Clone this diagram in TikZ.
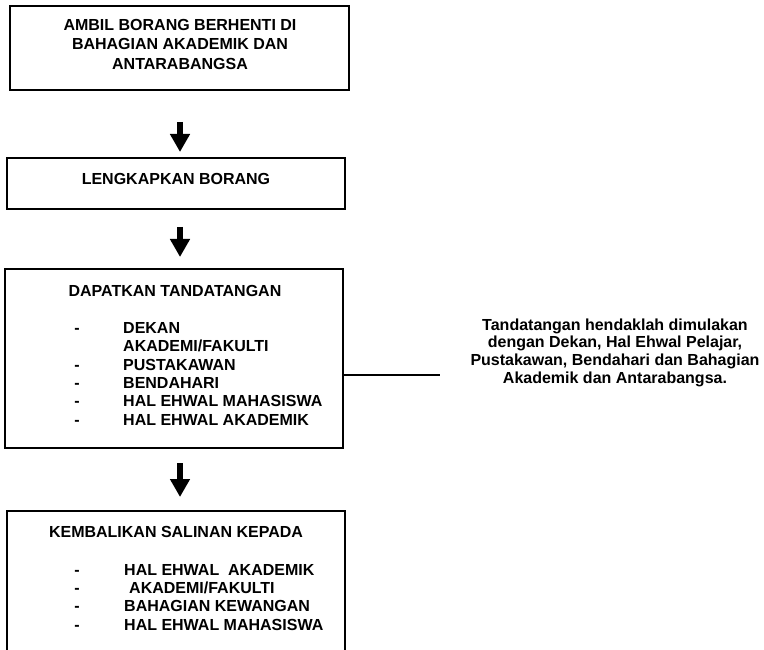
\documentclass[tikz,border=0pt]{standalone}
\usepackage{fontspec}
\setmainfont{Liberation Sans}
\usetikzlibrary{arrows.meta}
\begin{document}
\begin{tikzpicture}[x=1pt,y=-1pt,
  box/.style={draw, line width=1.6pt, inner sep=0pt, rectangle},
  txt/.style={inner sep=0pt, anchor=base, font=\fontsize{16}{19}\selectfont\bfseries},
  item/.style={inner sep=0pt, anchor=base west, font=\fontsize{16}{19}\selectfont\bfseries},
  bullet/.style={inner sep=0pt, anchor=base, font=\fontsize{16}{19}\selectfont\bfseries},
  note/.style={inner sep=0pt, anchor=base, font=\fontsize{16}{18}\selectfont\bfseries},
  flow/.style={line width=6pt, -{Triangle[width=19pt,length=18pt]}},
  link/.style={line width=1.2pt}]
\useasboundingbox (0,0) rectangle (764,650);
\clip (0,0) rectangle (764,650);
% boxes
\node[box, minimum width=339pt, minimum height=84pt] (b1) at (179.5,48) {};
\node[box, minimum width=338pt, minimum height=51pt] (b2) at (176,183.5) {};
\node[box, minimum width=338pt, minimum height=179pt] (b3) at (174,358.5) {};
\node[box, minimum width=338pt, minimum height=149pt] (b4) at (176,585.5) {};
% box 1 text
\node[txt] (t11) at (180,30.7) {AMBIL BORANG BERHENTI DI};
\node[txt] (t12) at (180,50) {BAHAGIAN AKADEMIK DAN};
\node[txt] (t13) at (180,70) {ANTARABANGSA};
% box 2 text
\node[txt] (t21) at (176,185) {LENGKAPKAN BORANG};
% box 3 text
\node[txt] (t31) at (175,296.7) {DAPATKAN TANDATANGAN};
\node[bullet] (d31) at (77,333.5) {-};
\node[item] (i31) at (123,333.5) {DEKAN};
\node[item] (i32) at (123,351.8) {AKADEMI/FAKULTI};
\node[bullet] (d33) at (77,370.1) {-};
\node[item] (i33) at (123,370.1) {PUSTAKAWAN};
\node[bullet] (d34) at (77,388.4) {-};
\node[item] (i34) at (123,388.4) {BENDAHARI};
\node[bullet] (d35) at (77,406.7) {-};
\node[item] (i35) at (123,406.7) {HAL EHWAL MAHASISWA};
\node[bullet] (d36) at (77,425) {-};
\node[item] (i36) at (123,425) {HAL EHWAL AKADEMIK};
% box 4 text
\node[txt] (t41) at (176,537.3) {KEMBALIKAN SALINAN KEPADA};
\node[bullet] (d41) at (77,575) {-};
\node[item] (i41) at (124,575) {HAL EHWAL\ \ AKADEMIK};
\node[bullet] (d42) at (77,593) {-};
\node[item] (i42) at (129,593) {AKADEMI/FAKULTI};
\node[bullet] (d43) at (77,611) {-};
\node[item] (i43) at (124,611) {BAHAGIAN KEWANGAN};
\node[bullet] (d44) at (77,630) {-};
\node[item] (i44) at (124,630) {HAL EHWAL MAHASISWA};
% note
\node[note] (n1) at (615,330) {Tandatangan hendaklah dimulakan};
\node[note] (n2) at (615,347.8) {dengan Dekan, Hal Ehwal Pelajar,};
\node[note] (n3) at (615,365.6) {Pustakawan, Bendahari dan Bahagian};
\node[note] (n4) at (615,383.4) {Akademik dan Antarabangsa.};
% arrows
\coordinate (a1s) at (180,122); \coordinate (a1e) at (180,152);
\coordinate (a2s) at (180,227); \coordinate (a2e) at (180,257);
\coordinate (a3s) at (180,463); \coordinate (a3e) at (180,497);
\draw[flow] (a1s) -- (a1e);
\draw[flow] (a2s) -- (a2e);
\draw[flow] (a3s) -- (a3e);
% link to note
\coordinate (lk) at (440,375);
\draw[link] (b3.east |- lk) -- (lk);
\end{tikzpicture}
\end{document}
